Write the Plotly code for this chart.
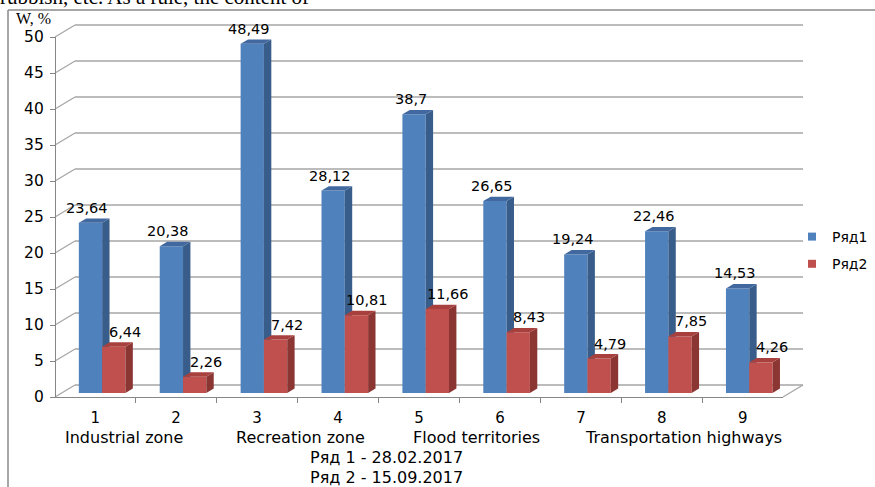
import plotly.graph_objects as go

# ---------------- data ----------------
categories = ["1", "2", "3", "4", "5", "6", "7", "8", "9"]
series1_name = "Ряд1"
series2_name = "Ряд2"
series1 = [23.64, 20.38, 48.49, 28.12, 38.7, 26.65, 19.24, 22.46, 14.53]
series2 = [6.44, 2.26, 7.42, 10.81, 11.66, 8.43, 4.79, 7.85, 4.26]
y_ticks = [0, 5, 10, 15, 20, 25, 30, 35, 40, 45, 50]
group_labels = ["Industrial zone", "Recreation zone", "Flood territories", "Transportation highways"]
date_lines = ["Ряд 1 - 28.02.2017", "Ряд 2 - 15.09.2017"]
y_title = "W, %"
page_text = "rubbish, etc. As a rule, the content of"

# ---------------- geometry (pixels) ----------------
W, H = 875, 487
AX_LEFT, AX_RIGHT = 55, 783          # front category axis extent
AX_ZERO, AX_TOP = 397, 37            # y pixel of 0 and 50 on front axis
YMAX = 50
PPX = (AX_RIGHT - AX_LEFT) / len(categories)   # px per category
PPY = (AX_ZERO - AX_TOP) / YMAX                # px per unit
DEPTH_X, DEPTH_Y = 20, 12            # wall depth offset in px
BAR_FX, BAR_FY = 6.7, 4.0            # bar front face depth offset
BAR_DX, BAR_DY = 7.4, 4.4            # bar depth
BAR_W = 23.3                         # bar width px

def dx(p):
    return p / PPX

def dy(p):
    return p / PPY

x_range = [0.5 - AX_LEFT / PPX, 0.5 + (W - AX_LEFT) / PPX]
y_range = [-(H - AX_ZERO) / PPY, AX_ZERO / PPY]

blue_front, blue_side, blue_top = "#4F81BD", "#385D8A", "#41699F"
red_front, red_side, red_top = "#C0504D", "#8C3634", "#A8413E"
grid_col = "#A6A6A6"
axis_col = "#868686"
FONT = "DejaVu Sans"

fig = go.Figure()

sx, sy = dx(BAR_FX), dy(BAR_FY)
w = dx(BAR_W)
ddx, ddy = dx(BAR_DX), dy(BAR_DY)
xs = [i + 1 for i in range(len(categories))]


def faces(vals, left):
    side_x, side_y, top_x, top_y = [], [], [], []
    for xi, v in zip(xs, vals):
        x0 = xi + sx - (w if left else 0)
        x1 = x0 + w
        b = sy
        t = sy + v
        side_x += [x1, x1 + ddx, x1 + ddx, x1, x1, None]
        side_y += [b, b + ddy, t + ddy, t, b, None]
        top_x += [x0, x1, x1 + ddx, x0 + ddx, x0, None]
        top_y += [t, t, t + ddy, t + ddy, t, None]
    return side_x, side_y, top_x, top_y


for vals, left, front, side, top, xa, ya in [
    (series1, True, blue_front, blue_side, blue_top, "x", "y"),
    (series2, False, red_front, red_side, red_top, "x3", "y3"),
]:
    fig.add_trace(go.Bar(
        x=[xi + sx for xi in xs], y=vals, base=sy, width=w,
        offset=-w if left else 0,
        marker=dict(color=front, line=dict(width=0)),
        showlegend=False, xaxis=xa, yaxis=ya, hoverinfo="skip"))
    sxp, syp, txp, typ = faces(vals, left)
    fig.add_trace(go.Scatter(x=sxp, y=syp, fill="toself", fillcolor=side,
                             mode="lines", line=dict(width=0, color=side),
                             showlegend=False, xaxis=xa, yaxis=ya, hoverinfo="skip"))
    fig.add_trace(go.Scatter(x=txp, y=typ, fill="toself", fillcolor=top,
                             mode="lines", line=dict(width=0, color=top),
                             showlegend=False, xaxis=xa, yaxis=ya, hoverinfo="skip"))

# legend entries
for name, col, grp in [(series1_name, blue_front, "a"), (series2_name, red_front, "b")]:
    fig.add_trace(go.Scatter(x=[None], y=[None], mode="markers", name=name,
                             legendgroup=grp,
                             marker=dict(symbol="square", size=8, color=col)))

# front axes (ticks/labels)
fig.add_trace(go.Scatter(x=categories, y=[None] * len(categories), xaxis="x2", yaxis="y2",
                         showlegend=False, hoverinfo="skip"))

# walls / gridlines
shapes = []
DX, DY = dx(DEPTH_X), dy(DEPTH_Y)
for v in y_ticks:
    shapes.append(dict(type="line", xref="x", yref="y", x0=0.5, y0=v, x1=0.5 + DX, y1=v + DY,
                       line=dict(color=grid_col, width=1.3), layer="below"))
    shapes.append(dict(type="line", xref="x", yref="y", x0=0.5 + DX, y0=v + DY,
                       x1=len(categories) + 0.5 + DX, y1=v + DY,
                       line=dict(color=grid_col, width=1.3), layer="below"))
shapes.append(dict(type="line", xref="x", yref="y", x0=len(categories) + 0.5, y0=0,
                   x1=len(categories) + 0.5 + DX, y1=DY,
                   line=dict(color=grid_col, width=1.3), layer="below"))
# outer frame
shapes.append(dict(type="line", xref="paper", yref="paper", x0=8 / W, y0=0, x1=8 / W, y1=1 - 10 / H,
                   line=dict(color="#8A8A8A", width=1.5)))
shapes.append(dict(type="line", xref="paper", yref="paper", x0=8 / W, y0=1 - 10 / H, x1=1, y1=1 - 10 / H,
                   line=dict(color="#8A8A8A", width=1.5)))

annotations = []
for vals, left, off in [(series1, True, -3), (series2, False, 11)]:
    for xi, v in zip(xs, vals):
        cx = xi + sx + (-w / 2 if left else w / 2)
        annotations.append(dict(x=cx, y=v + sy, xref="x", yref="y",
                                text=f"{v:g}".replace(".", ","), showarrow=False,
                                xshift=off, yshift=15, yanchor="middle",
                                font=dict(family=FONT, size=14.5, color="#000")))

for txt, px in zip(group_labels, [124, 300, 476, 683]):
    annotations.append(dict(x=px / W, y=1 - 437 / H, xref="paper", yref="paper", text=txt,
                            showarrow=False, xanchor="center", yanchor="middle",
                            font=dict(family=FONT, size=16, color="#000")))
for txt, py in zip(date_lines, [457, 477]):
    annotations.append(dict(x=308 / W, y=1 - py / H, xref="paper", yref="paper", text=txt,
                            showarrow=False, xanchor="left", yanchor="middle",
                            font=dict(family=FONT, size=16, color="#000")))
annotations.append(dict(x=14 / W, y=1 - 19 / H, xref="paper", yref="paper", text=y_title,
                        showarrow=False, xanchor="left", yanchor="middle",
                        font=dict(family="Liberation Serif", size=16, color="#000")))
annotations.append(dict(x=-2 / W, y=1 - 11 / H, xref="paper", yref="paper", text=page_text,
                        showarrow=False, xanchor="left", yanchor="bottom",
                        font=dict(family="Liberation Serif", size=21, color="#000")))

hidden = dict(visible=False, fixedrange=True)
fig.update_layout(
    width=W, height=H, margin=dict(l=0, r=0, t=0, b=0, autoexpand=False),
    paper_bgcolor="white", plot_bgcolor="rgba(0,0,0,0)",
    barmode="overlay",
    xaxis=dict(range=x_range, domain=[0, 1], **hidden),
    yaxis=dict(range=y_range, domain=[0, 1], **hidden),
    xaxis3=dict(range=x_range, domain=[0, 1], overlaying="x", **hidden),
    yaxis3=dict(range=y_range, domain=[0, 1], overlaying="y", **hidden),
    xaxis2=dict(type="category", domain=[AX_LEFT / W, AX_RIGHT / W], anchor="y2",
                showline=True, linecolor=axis_col, linewidth=1.3, showgrid=False,
                ticks="outside", tickson="boundaries", ticklen=5, tickcolor=axis_col,
                ticklabelstandoff=7,
                tickfont=dict(family=FONT, size=15, color="#000"), zeroline=False,
                automargin=False),
    yaxis2=dict(range=[0, YMAX], domain=[1 - AX_ZERO / H, 1 - AX_TOP / H], anchor="free",
                position=AX_LEFT / W, showline=True, linecolor=axis_col, linewidth=1.3,
                showgrid=False, zeroline=False, ticks="outside", ticklen=5, tickcolor=axis_col,
                ticklabelstandoff=3,
                tickvals=y_ticks, tickfont=dict(family=FONT, size=15.5, color="#000"),
                automargin=False),
    legend=dict(x=792 / W, y=1 - 221 / H, xanchor="left", yanchor="top",
                font=dict(family=FONT, size=14, color="#000"), tracegroupgap=6,
                bgcolor="rgba(0,0,0,0)"),
    shapes=shapes, annotations=annotations,
)

fig.write_html("out.html")
